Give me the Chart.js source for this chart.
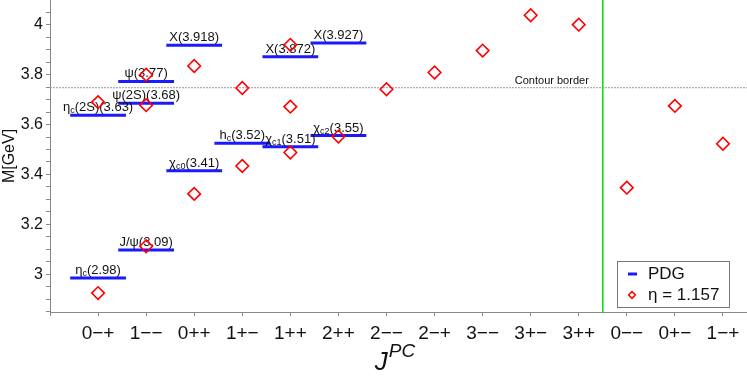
<!DOCTYPE html>
<html><head><meta charset="utf-8">
<script src="https://cdn.jsdelivr.net/npm/chart.js@4/dist/chart.umd.min.js"></script>
<style>html,body{margin:0;padding:0;background:#fff}</style>
</head><body>
<canvas id="c" width="747" height="377"></canvas>
<script>
// ---- data ----
const categories = ['0\u2212+','1\u2212\u2212','0++','1+\u2212','1++','2++','2\u2212\u2212','2\u2212+','3\u2212\u2212','3+\u2212','3++','0\u2212\u2212','0+\u2212','1\u2212+'];
const etaCategory = [0,0,1,1,1,2,2,3,3,4,4,4,5,6,7,8,9,10,11,12,13];
const etaMass = [2.924,3.690,3.112,3.678,3.800,3.835,3.322,3.747,3.434,3.920,3.672,3.488,3.552,3.742,3.809,3.897,4.039,4.001,3.347,3.675,3.523];
const pdgCategory = [0,1,0,1,1,2,2,3,4,4,5,5];
const pdgMass = [2.984,3.097,3.638,3.686,3.773,3.918,3.415,3.525,3.511,3.872,3.556,3.927];
const pdgName = ['\u03b7','J/\u03c8','\u03b7','\u03c8(2S)','\u03c8','X','\u03c7','h','\u03c7','X','\u03c7','X'];
const pdgSub  = ['c','','c','','','','c0','c','c1','','c2',''];
const pdgTail = ['(2.98)','(3.09)','(2S)(3.63)','(3.68)','(3.77)','(3.918)','(3.41)','(3.52)','(3.51)','(3.872)','(3.55)','(3.927)'];
const yTickLabels = ['3','3.2','3.4','3.6','3.8','4'];
const contourBorder = 3.75;
const exoticSplit = 10.5;
const legendLabels = ['PDG','\u03b7 = 1.157'];

const FONT = '"Liberation Sans", Arial, sans-serif';
const HALF = 0.58;

const pdgData = [];
pdgCategory.forEach((c,i)=>{
  pdgData.push({x:c-HALF,y:pdgMass[i]},{x:c+HALF,y:pdgMass[i]},{x:c,y:null});
});
const etaData = etaCategory.map((c,i)=>({x:c,y:etaMass[i]}));

function drawLabel(ctx,cx,baseY,name,sub,tail){
  const f='13px '+FONT, fs='9px '+FONT;
  ctx.font=f; const w1=ctx.measureText(name).width, w3=ctx.measureText(tail).width;
  ctx.font=fs; const w2=sub?ctx.measureText(sub).width:0;
  let x=cx-(w1+w2+w3)/2;
  ctx.textAlign='left'; ctx.textBaseline='alphabetic'; ctx.fillStyle='#111';
  ctx.font=f; ctx.fillText(name,x,baseY); x+=w1;
  if(sub){ctx.font=fs; ctx.fillText(sub,x,baseY+2); x+=w2;}
  ctx.font=f; ctx.fillText(tail,x,baseY);
}

const decor = {
  id:'decor',
  beforeDatasetsDraw(chart){
    const {ctx,chartArea:a,scales:{x,y}}=chart;
    ctx.save();
    const yc=y.getPixelForValue(contourBorder);
    ctx.strokeStyle='#9a9a9a'; ctx.lineWidth=1; ctx.setLineDash([2,1]);
    ctx.beginPath(); ctx.moveTo(a.left,yc+0.5); ctx.lineTo(a.right,yc+0.5); ctx.stroke();
    ctx.setLineDash([]);
    ctx.font='11px '+FONT; ctx.fillStyle='#111'; ctx.textAlign='right'; ctx.textBaseline='alphabetic';
    ctx.fillText('Contour border', x.getPixelForValue(exoticSplit)-14, yc-3);
    const xs=x.getPixelForValue(exoticSplit);
    ctx.strokeStyle='#00e000'; ctx.lineWidth=1.5;
    ctx.beginPath(); ctx.moveTo(xs,a.top); ctx.lineTo(xs,a.bottom); ctx.stroke();
    ctx.restore();
  },
  beforeDatasetDraw(chart,args){
    if(args.index!==0) return;
    const {ctx,scales:{x,y}}=chart;
    ctx.save();
    pdgCategory.forEach((c,i)=>{
      drawLabel(ctx,x.getPixelForValue(c),y.getPixelForValue(pdgMass[i])-4,pdgName[i],pdgSub[i],pdgTail[i]);
    });
    ctx.restore();
  },
  afterDraw(chart){
    const {ctx,chartArea:a}=chart;
    ctx.save();
    ctx.fillStyle='#111'; ctx.textAlign='left'; ctx.textBaseline='alphabetic';
    ctx.font='italic 26px '+FONT; const wj=ctx.measureText('J').width;
    ctx.font='italic 19px '+FONT; const wp=ctx.measureText('PC').width;
    let sx=(a.left+a.right)/2-4-(wj+wp)/2;
    ctx.font='italic 26px '+FONT; ctx.fillText('J',sx,a.bottom+58);
    ctx.font='italic 19px '+FONT; ctx.fillText('PC',sx+wj+1,a.bottom+45);
    const bx=a.right-130, by=a.bottom-51, bw=112, bh=46;
    ctx.fillStyle='#fff'; ctx.fillRect(bx,by,bw,bh);
    ctx.strokeStyle='#777'; ctx.lineWidth=1; ctx.strokeRect(bx+0.5,by+0.5,bw,bh);
    ctx.strokeStyle='#1a1aff'; ctx.lineWidth=3;
    ctx.beginPath(); ctx.moveTo(bx+11,by+13); ctx.lineTo(bx+20,by+13); ctx.stroke();
    ctx.strokeStyle='#ff0000'; ctx.lineWidth=1.5;
    const dx=bx+15, dy=by+34, r=3.4;
    ctx.beginPath(); ctx.moveTo(dx-r,dy); ctx.lineTo(dx,dy-r); ctx.lineTo(dx+r,dy); ctx.lineTo(dx,dy+r); ctx.closePath(); ctx.stroke();
    ctx.fillStyle='#111'; ctx.font='17px '+FONT; ctx.textBaseline='middle';
    ctx.fillText(legendLabels[0],bx+31,by+13);
    ctx.fillText(legendLabels[1],bx+31,by+34);
    ctx.restore();
  }
};

new Chart(document.getElementById('c'),{
  type:'scatter',
  data:{datasets:[
    {label:legendLabels[1],data:etaData,pointStyle:'rectRot',pointRadius:6.3,pointHoverRadius:6.3,
     borderColor:'#ff0000',backgroundColor:'rgba(0,0,0,0)',pointBorderWidth:1.6,showLine:false},
    {label:legendLabels[0],data:pdgData,showLine:true,spanGaps:false,borderColor:'#1a1aff',borderWidth:3,
     pointRadius:0,pointHoverRadius:0,borderCapStyle:'butt'}
  ]},
  options:{
    responsive:false,animation:false,devicePixelRatio:1,
    layout:{padding:0,autoPadding:false},
    plugins:{legend:{display:false},tooltip:{enabled:false}},
    scales:{
      x:{type:'linear',min:-1,max:13.5,
        ticks:{stepSize:1,includeBounds:false,autoSkip:false,maxRotation:0,padding:6,color:'#111',
          font:{family:FONT,size:19},
          callback:(v)=>{const i=Math.round(v);return (Math.abs(v-i)<1e-6&&i>=0&&i<categories.length)?categories[i]:'';}},
        grid:{drawOnChartArea:false,tickLength:4,color:'#888'},
        border:{color:'#888',width:1},
        afterFit:(s)=>{s.height=65;s.paddingLeft=0;s.paddingRight=0;}
      },
      y:{type:'linear',min:2.848,max:4.1,
        ticks:{stepSize:0.05,includeBounds:false,autoSkip:false,padding:3,color:'#111',
          font:{family:FONT,size:16},
          callback:(v)=>{const lab=yTickLabels.find(t=>Math.abs(Number(t)-v)<1e-6);return lab!==undefined?lab:'';}},
        grid:{drawOnChartArea:false,tickLength:4,color:'#888'},
        border:{color:'#888',width:1},
        title:{display:true,text:'M[GeV]',color:'#111',font:{family:FONT,size:16},padding:{top:0,bottom:0}},
        afterFit:(s)=>{s.width=50;s.paddingTop=0;s.paddingBottom=0;}
      }
    }
  },
  plugins:[decor]
});
</script>
</body></html>
